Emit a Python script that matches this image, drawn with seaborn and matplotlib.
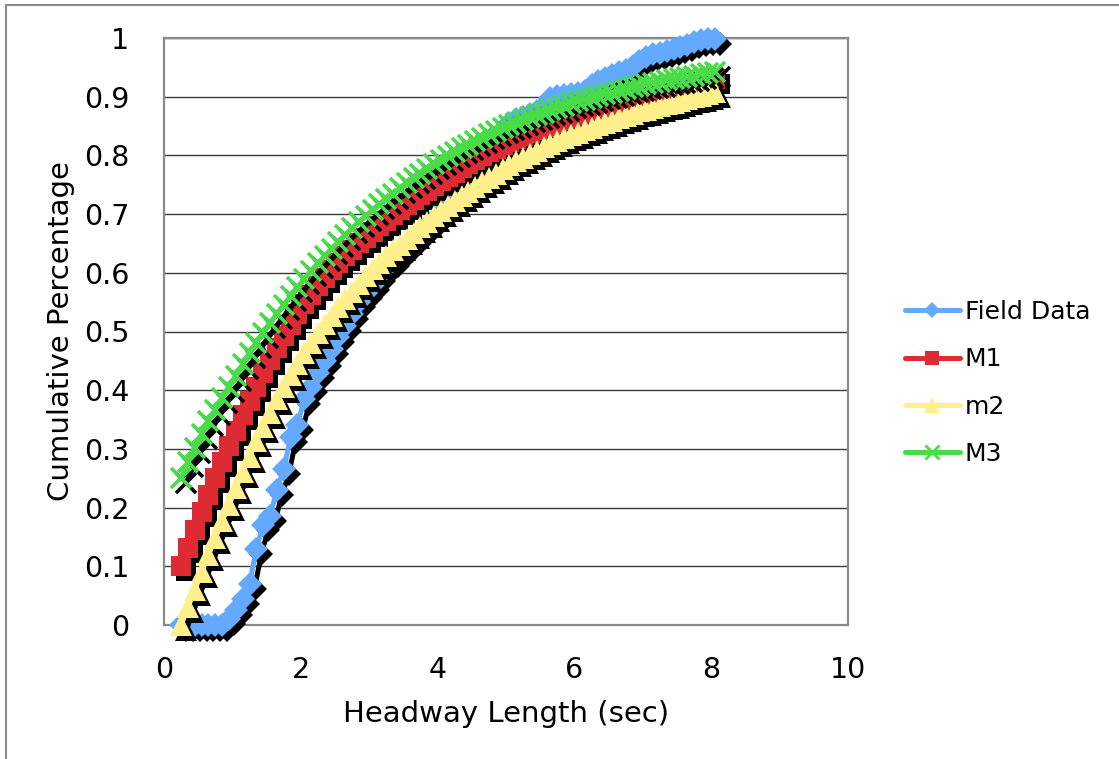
import matplotlib
matplotlib.use("Agg")
import matplotlib.pyplot as plt
import matplotlib.transforms as mtransforms
from matplotlib.lines import Line2D
from matplotlib.patches import Rectangle
import seaborn as sns
import pandas as pd

# Headway bins (sec)
headway = [0.25, 0.35, 0.45, 0.55, 0.65, 0.75, 0.85, 0.95, 1.05, 1.15,
           1.25, 1.35, 1.45, 1.55, 1.65, 1.75, 1.85, 1.95, 2.05, 2.15,
           2.25, 2.35, 2.45, 2.55, 2.65, 2.75, 2.85, 2.95, 3.05, 3.15,
           3.25, 3.35, 3.45, 3.55, 3.65, 3.75, 3.85, 3.95, 4.05, 4.15,
           4.25, 4.35, 4.45, 4.55, 4.65, 4.75, 4.85, 4.95, 5.05, 5.15,
           5.25, 5.35, 5.45, 5.55, 5.65, 5.75, 5.85, 5.95, 6.05, 6.15,
           6.25, 6.35, 6.45, 6.55, 6.65, 6.75, 6.85, 6.95, 7.05, 7.15,
           7.25, 7.35, 7.45, 7.55, 7.65, 7.75, 7.85, 7.95, 8.05]

field_data = [0.000, 0.000, 0.000, 0.000, 0.000, 0.000, 0.000, 0.010, 0.025, 0.045,
              0.070, 0.130, 0.170, 0.185, 0.230, 0.265, 0.320, 0.340, 0.385, 0.405,
              0.430, 0.450, 0.470, 0.490, 0.510, 0.530, 0.550, 0.565, 0.580, 0.595,
              0.610, 0.620, 0.633, 0.645, 0.657, 0.668, 0.680, 0.690, 0.702, 0.715,
              0.728, 0.742, 0.757, 0.772, 0.788, 0.805, 0.825, 0.840, 0.855, 0.862,
              0.866, 0.870, 0.876, 0.885, 0.897, 0.902, 0.903, 0.905, 0.907, 0.910,
              0.920, 0.927, 0.932, 0.937, 0.942, 0.946, 0.952, 0.960, 0.968, 0.972,
              0.975, 0.978, 0.982, 0.985, 0.988, 0.993, 0.997, 0.998, 0.998]

m1 = [0.100, 0.131, 0.162, 0.192, 0.221, 0.250, 0.278, 0.305, 0.331, 0.357,
      0.382, 0.406, 0.429, 0.451, 0.472, 0.492, 0.511, 0.529, 0.546, 0.562,
      0.577, 0.591, 0.604, 0.616, 0.628, 0.639, 0.650, 0.660, 0.670, 0.680,
      0.689, 0.698, 0.707, 0.716, 0.724, 0.732, 0.740, 0.748, 0.756, 0.763,
      0.770, 0.778, 0.785, 0.792, 0.799, 0.805, 0.811, 0.817, 0.823, 0.828,
      0.833, 0.838, 0.843, 0.848, 0.852, 0.856, 0.860, 0.864, 0.868, 0.872,
      0.876, 0.879, 0.882, 0.886, 0.889, 0.892, 0.895, 0.898, 0.901, 0.904,
      0.907, 0.910, 0.913, 0.916, 0.919, 0.922, 0.925, 0.928, 0.931]

m2 = [0.000, 0.030, 0.060, 0.090, 0.119, 0.148, 0.177, 0.205, 0.233, 0.260,
      0.287, 0.313, 0.338, 0.362, 0.385, 0.406, 0.426, 0.445, 0.463, 0.480,
      0.497, 0.512, 0.527, 0.541, 0.555, 0.568, 0.581, 0.595, 0.606, 0.617,
      0.628, 0.638, 0.648, 0.658, 0.668, 0.678, 0.687, 0.696, 0.705, 0.714,
      0.722, 0.730, 0.738, 0.746, 0.754, 0.762, 0.769, 0.776, 0.783, 0.790,
      0.796, 0.802, 0.808, 0.814, 0.819, 0.824, 0.829, 0.834, 0.839, 0.843,
      0.847, 0.851, 0.855, 0.859, 0.863, 0.867, 0.871, 0.875, 0.878, 0.881,
      0.884, 0.887, 0.890, 0.893, 0.896, 0.899, 0.902, 0.905, 0.908]

m3 = [0.250, 0.277, 0.302, 0.325, 0.347, 0.367, 0.387, 0.406, 0.425, 0.444,
      0.463, 0.481, 0.498, 0.514, 0.530, 0.545, 0.560, 0.575, 0.589, 0.603,
      0.616, 0.629, 0.641, 0.653, 0.665, 0.676, 0.687, 0.697, 0.707, 0.717,
      0.726, 0.735, 0.744, 0.753, 0.761, 0.769, 0.777, 0.785, 0.792, 0.799,
      0.806, 0.812, 0.818, 0.824, 0.830, 0.836, 0.841, 0.846, 0.851, 0.856,
      0.861, 0.865, 0.869, 0.873, 0.877, 0.881, 0.885, 0.889, 0.892, 0.895,
      0.898, 0.901, 0.904, 0.907, 0.910, 0.913, 0.916, 0.918, 0.921, 0.923,
      0.925, 0.928, 0.930, 0.932, 0.934, 0.936, 0.938, 0.940, 0.942]

series_names = ["Field Data", "M1", "m2", "M3"]
series_values = [field_data, m1, m2, m3]
series_colors = ["#62A9FF", "#DE2B33", "#FFF08C", "#48DC48"]
series_markers = ["D", "s", "^", "x"]
marker_sizes = [12.5, 14, 16, 14]
legend_marker_sizes = [8.5, 10.5, 11.5, 10]

x_ticks = [0, 2, 4, 6, 8, 10]
y_ticks = [0, 0.1, 0.2, 0.3, 0.4, 0.5, 0.6, 0.7, 0.8, 0.9, 1.0]
y_tick_labels = ["0", "0.1", "0.2", "0.3", "0.4", "0.5", "0.6", "0.7", "0.8", "0.9", "1"]

df = pd.DataFrame({"headway": headway * len(series_names),
                   "cum": sum(series_values, []),
                   "series": sum([[n] * len(headway) for n in series_names], [])})

sns.set_style("white")
plt.rcParams["font.family"] = ["DejaVu Sans"]
plt.rcParams["text.color"] = "black"
plt.rcParams["axes.labelcolor"] = "black"

W, H = 1119, 759
fig = plt.figure(figsize=(W / 100, H / 100), dpi=100)
ax = fig.add_axes([164 / W, 1 - 625 / H, (848 - 164) / W, (625 - 38) / H])

# outer chart border
fig.patches.append(Rectangle((6 / W, -0.05), 1.2, 1 - 5 / H + 0.05,
                             transform=fig.transFigure, fill=False,
                             edgecolor="#8a8a8a", linewidth=1.5, zorder=0))

shadow = ax.transData + mtransforms.ScaledTranslation(5 / 100, -5 / 100, fig.dpi_scale_trans)

for name, color, mk, ms in zip(series_names, series_colors, series_markers, marker_sizes):
    sub = df[df["series"] == name]
    mew = 2.6 if mk == "x" else 0
    for is_shadow in (True, False):
        c = "black" if is_shadow else color
        sns.lineplot(data=sub, x="headway", y="cum", ax=ax, color=c,
                     linewidth=3.6, marker=mk, markersize=ms,
                     markeredgewidth=mew, markeredgecolor=c, markerfacecolor=c,
                     clip_on=False, legend=False, estimator=None,
                     transform=shadow if is_shadow else ax.transData,
                     zorder=3)

ax.set_xlim(0, 10)
ax.set_ylim(0, 1)
ax.set_xticks(x_ticks)
ax.set_yticks(y_ticks)
ax.set_yticklabels(y_tick_labels)
ax.tick_params(axis="both", length=0, labelsize=20.5, colors="black")
ax.tick_params(axis="x", pad=22)
ax.tick_params(axis="y", pad=25)
ax.grid(axis="y", color="#3a3a3a", linewidth=1.0)
ax.grid(axis="x", visible=False)
ax.set_axisbelow(True)
for sp in ax.spines.values():
    sp.set_color("#8a8a8a")
    sp.set_linewidth(1.6)
    sp.set_zorder(1)

ax.set_xlabel("Headway Length (sec)", fontsize=21, labelpad=12)
ax.set_ylabel("Cumulative Percentage", fontsize=21, labelpad=6)

handles = [Line2D([0], [0], color=c, linewidth=3.6, marker=m, markersize=s,
                  markeredgewidth=(2.0 if m == "x" else 0), markeredgecolor=c,
                  markerfacecolor=c, solid_capstyle="round")
           for c, m, s in zip(series_colors, series_markers, legend_marker_sizes)]
fig.legend(handles, series_names, loc="center left",
           bbox_to_anchor=(905 / W, 1 - 383 / H), frameon=False,
           fontsize=18, handlelength=2.2, handletextpad=0.2,
           labelspacing=0.93, borderpad=0, borderaxespad=0)

fig.savefig("out.png", dpi=100)
